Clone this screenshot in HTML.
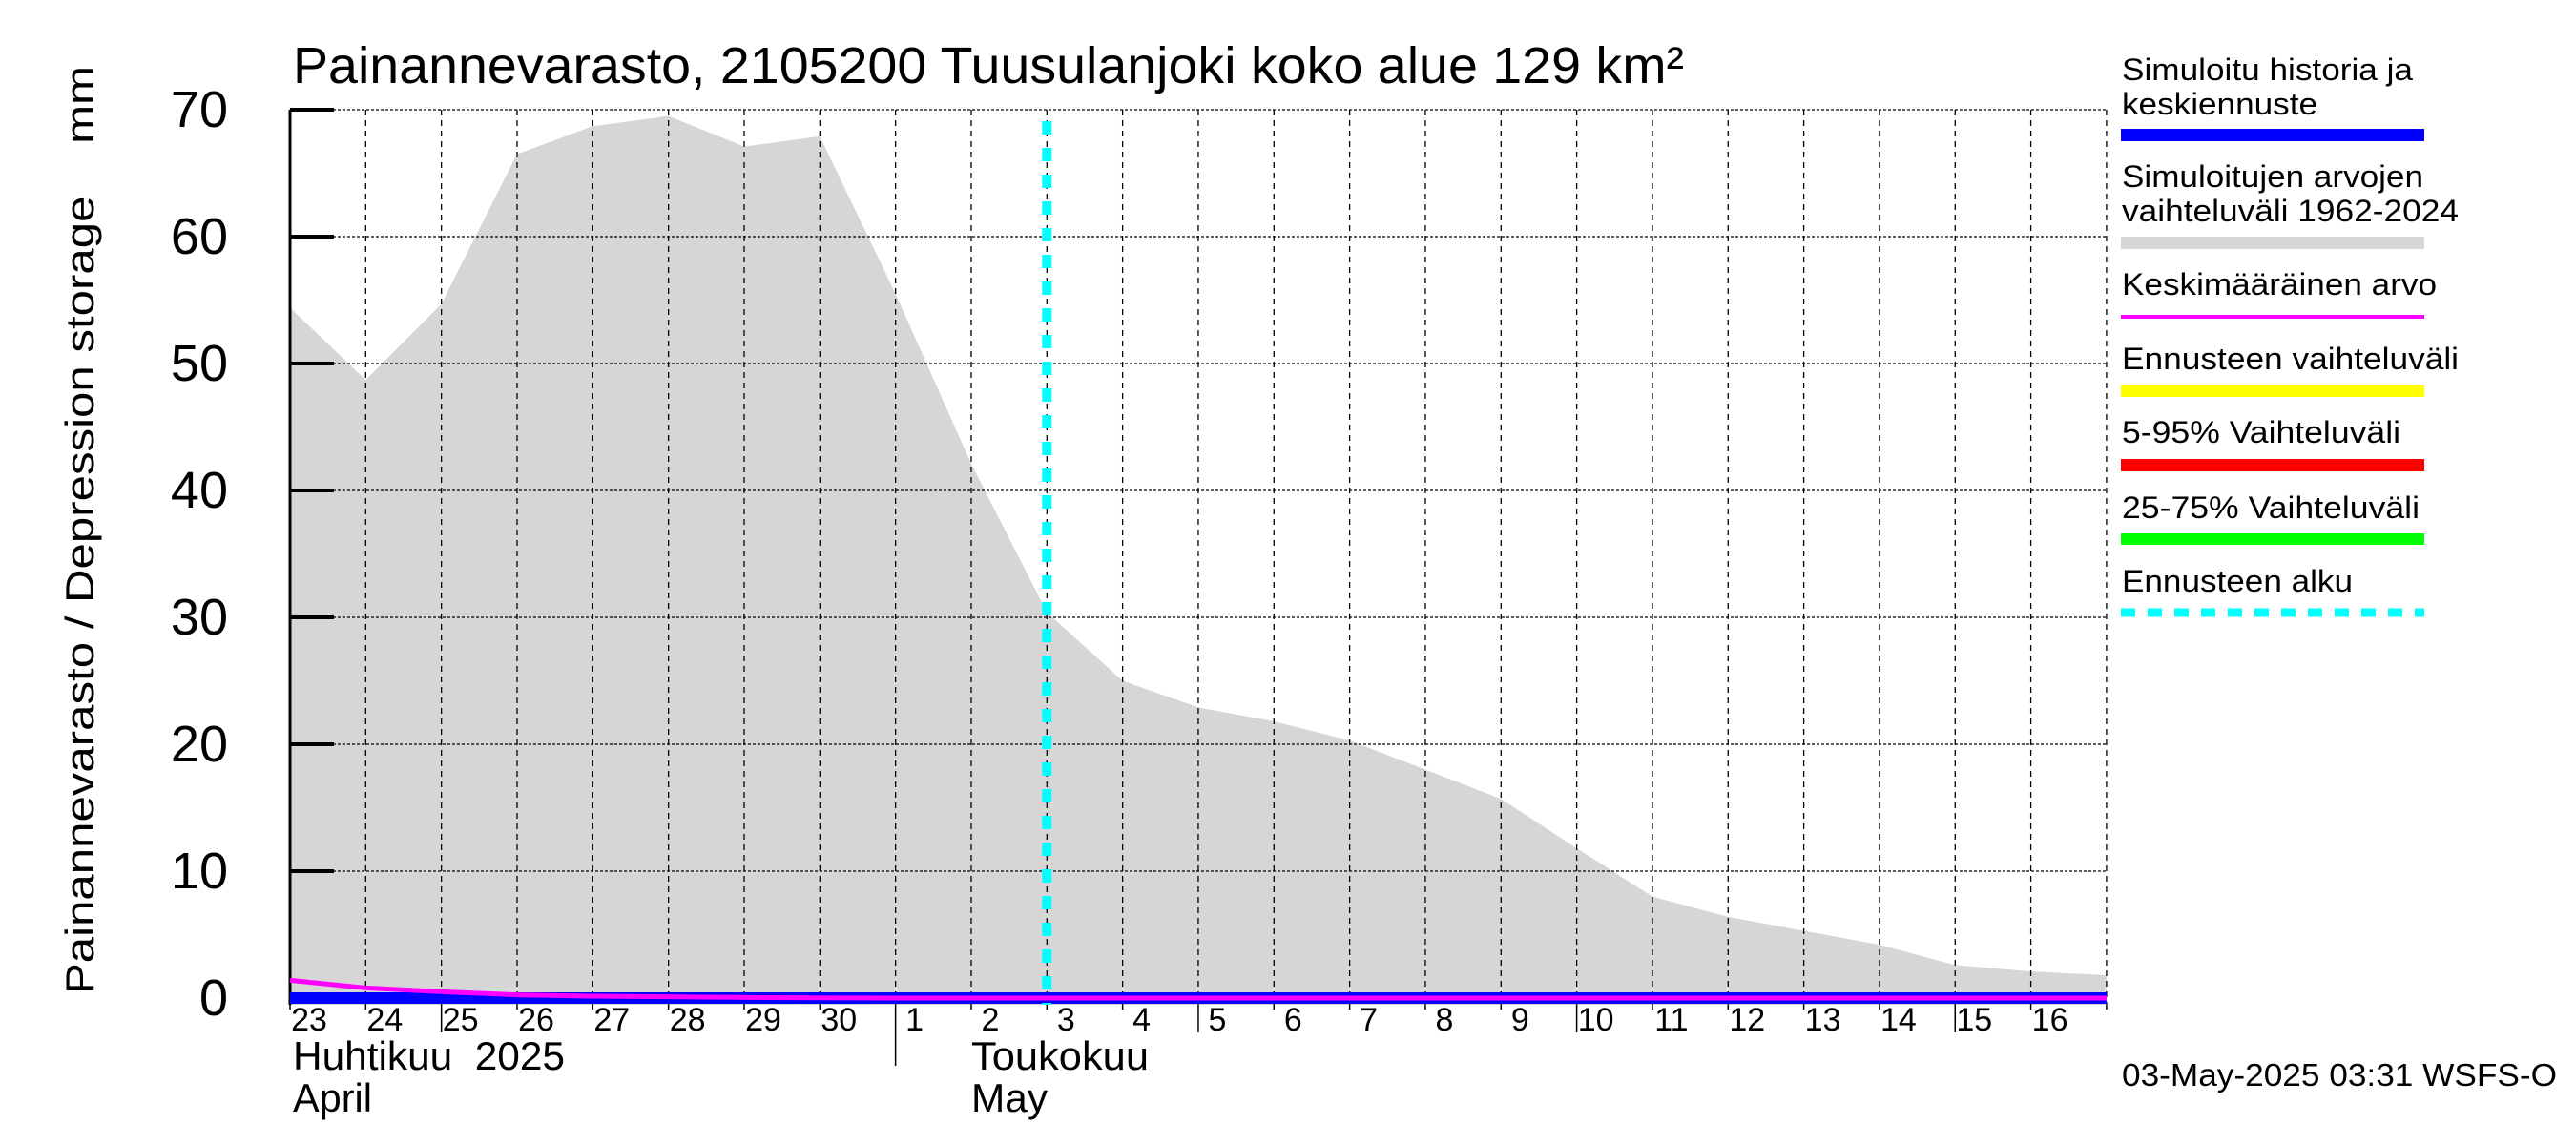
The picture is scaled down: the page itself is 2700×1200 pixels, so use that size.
<!DOCTYPE html>
<html><head><meta charset="utf-8"><style>
html,body{margin:0;padding:0;background:#fff;}
svg{display:block;font-family:"Liberation Sans",sans-serif;}
</style></head><body>
<svg id="chart" width="2700" height="1200" viewBox="0 0 2700 1200" xmlns="http://www.w3.org/2000/svg">
<rect width="2700" height="1200" fill="#fff"/>
<g id="plot"></g>
<text x="307" y="87" font-size="54" textLength="1458" lengthAdjust="spacingAndGlyphs">Painannevarasto, 2105200 Tuusulanjoki koko alue 129 km²</text>
<text transform="translate(98,1042) rotate(-90)" font-size="42" textLength="973" lengthAdjust="spacingAndGlyphs" xml:space="preserve">Painannevarasto / Depression storage    mm</text>
<g id="xlabels"></g>
<text x="307" y="1121" font-size="42" textLength="285" lengthAdjust="spacingAndGlyphs" xml:space="preserve">Huhtikuu  2025</text>
<text x="307" y="1165" font-size="42" textLength="83" lengthAdjust="spacingAndGlyphs">April</text>
<text x="1018" y="1121" font-size="42" textLength="186" lengthAdjust="spacingAndGlyphs">Toukokuu</text>
<text x="1018" y="1165" font-size="42" textLength="80" lengthAdjust="spacingAndGlyphs">May</text>
<text x="2224" y="1138" font-size="33" textLength="456" lengthAdjust="spacingAndGlyphs">03-May-2025 03:31 WSFS-O</text>
<g font-size="32">
<text x="2224" y="84" textLength="305" lengthAdjust="spacingAndGlyphs">Simuloitu historia ja</text>
<text x="2224" y="120" textLength="205" lengthAdjust="spacingAndGlyphs">keskiennuste</text>
<rect x="2223" y="135" width="318" height="13" fill="#0000ff"/>
<text x="2224" y="196" textLength="316" lengthAdjust="spacingAndGlyphs">Simuloitujen arvojen</text>
<text x="2224" y="232" textLength="353" lengthAdjust="spacingAndGlyphs">vaihteluväli 1962-2024</text>
<rect x="2223" y="248" width="318" height="13" fill="#d6d6d6"/>
<text x="2224" y="309" textLength="330" lengthAdjust="spacingAndGlyphs">Keskimääräinen arvo</text>
<rect x="2223" y="330" width="318" height="4" fill="#ff00ff"/>
<text x="2224" y="387" textLength="353" lengthAdjust="spacingAndGlyphs">Ennusteen vaihteluväli</text>
<rect x="2223" y="403" width="318" height="13" fill="#ffff00"/>
<text x="2224" y="464" textLength="292" lengthAdjust="spacingAndGlyphs">5-95% Vaihteluväli</text>
<rect x="2223" y="481" width="318" height="13" fill="#ff0000"/>
<text x="2224" y="543" textLength="312" lengthAdjust="spacingAndGlyphs">25-75% Vaihteluväli</text>
<rect x="2223" y="559" width="318" height="12" fill="#00ff00"/>
<text x="2224" y="620" textLength="242" lengthAdjust="spacingAndGlyphs">Ennusteen alku</text>
<line x1="2223" y1="642" x2="2541" y2="642" stroke="#00ffff" stroke-width="9" stroke-dasharray="15 13"/>
</g>
</svg>
<script>
const dayLabels = ["23","24","25","26","27","28","29","30","1","2","3","4","5","6","7","8","9","10","11","12","13","14","15","16","17"];
const rangeMax = [54.4,48.7,54.7,66.5,68.7,69.5,67.1,67.9,55.5,42.1,30.4,25.0,22.9,21.8,20.3,18.0,15.7,11.8,8.0,6.4,5.3,4.2,2.6,2.1,1.8];
const meanValues = [1.4,0.8,0.5,0.25,0.15,0.1,0.05,0.02,0,0,0,0,0,0,0,0,0,0,0,0,0,0,0,0,0];
const historyValues = [0,0,0,0,0,0,0,0,0,0,0,0,0,0,0,0,0,0,0,0,0,0,0,0,0];
const yTicks = [0,10,20,30,40,50,60,70];
const forecastStartIndex = 10;
const majorTickIdx = [2,12,17,22];
const monthStartIdx = [8];

const NS = "http://www.w3.org/2000/svg";
const X0 = 304, DW = 79.33, Y0 = 1046, PU = 13.3, YBOT = 1053, XR = 2208;
const xs = i => X0 + i * DW;
const ys = v => Y0 - v * PU;
const plot = document.getElementById('plot');
const xl = document.getElementById('xlabels');
function mk(tag, attrs, parent) {
  const e = document.createElementNS(NS, tag);
  for (const k in attrs) e.setAttribute(k, attrs[k]);
  parent.appendChild(e);
  return e;
}
let d = "M" + xs(0) + "," + YBOT;
rangeMax.forEach((v, i) => { d += " L" + xs(i) + "," + ys(v); });
d += " L" + xs(rangeMax.length - 1) + "," + YBOT + " Z";
const area = mk('path', {d: d, fill: '#d6d6d6'}, plot);


yTicks.forEach(t => {
  if (t > 0) {
    const g = mk('line', {x1: X0, x2: XR, y1: ys(t), y2: ys(t), stroke: '#000', 'stroke-width': 1.3, 'stroke-dasharray': '3 2'}, plot);
    
    
    const tk = mk('line', {x1: X0, x2: X0 + 46, y1: ys(t), y2: ys(t), stroke: '#000', 'stroke-width': 4}, plot);
    
    
  }
  const lb = mk('text', {x: 239, y: ys(t) + 18, 'font-size': 54, 'text-anchor': 'end'}, plot);
  lb.textContent = String(t);
  
  
});
for (let i = 0; i <= dayLabels.length - 1; i++) {
  const x = xs(i);
  if (i > 0) {
    const g = mk('line', {x1: x, x2: x, y1: ys(70), y2: YBOT, stroke: '#000', 'stroke-width': 1.3, 'stroke-dasharray': '6 5'}, plot);
    
    
  }
  let len = 5;
  if (majorTickIdx.includes(i)) len = 29;
  if (monthStartIdx.includes(i)) len = 64;
  const tk = mk('line', {x1: x, x2: x, y1: YBOT, y2: YBOT + len, stroke: '#000', 'stroke-width': 1.5}, plot);
  
  
  if (i < dayLabels.length - 1) {
    const lb = mk('text', {x: x + 20, y: 1080, 'font-size': 34, 'text-anchor': 'middle'}, xl);
    lb.textContent = dayLabels[i];
    
    
  }
}
const ax = mk('line', {x1: X0, x2: X0, y1: ys(70), y2: YBOT, stroke: '#000', 'stroke-width': 3}, plot);


let hp = historyValues.map((v, i) => (i ? "L" : "M") + xs(i) + "," + ys(v)).join(" ");
const hl = mk('path', {d: hp, fill: 'none', stroke: '#0000ff', 'stroke-width': 12}, plot);


let mp = meanValues.map((v, i) => (i ? "L" : "M") + xs(i) + "," + ys(v)).join(" ");
const ml = mk('path', {d: mp, fill: 'none', stroke: '#ff00ff', 'stroke-width': 5}, plot);


const fx = xs(forecastStartIndex);
const fl = mk('line', {x1: fx, x2: fx, y1: 127, y2: YBOT, stroke: '#00ffff', 'stroke-width': 10, 'stroke-dasharray': '14 14'}, plot);


</script>
</body></html>
